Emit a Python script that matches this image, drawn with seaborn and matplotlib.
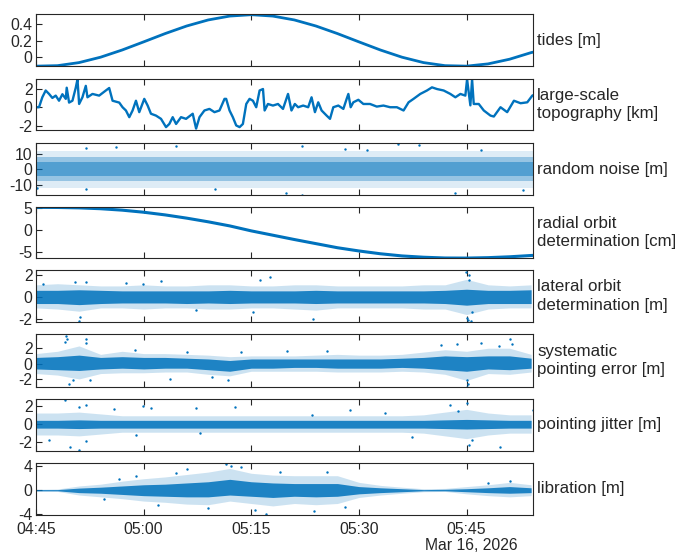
import numpy as np
import pandas as pd
import matplotlib
matplotlib.use("Agg")
import matplotlib.pyplot as plt
import matplotlib.dates as mdates
from matplotlib.ticker import FuncFormatter
import seaborn as sns

# ---------------- data ----------------
START = pd.Timestamp("2026-03-16 04:45:00")
END_MIN = 69.3                      # minutes after 04:45 at the right edge
DATE_LABEL = "Mar 16, 2026"
TICK_MIN = [0, 15, 30, 45, 60]      # 04:45, 05:00, 05:15, 05:30, 05:45

panel_labels = ["tides [m]", "large-scale\ntopography [km]", "random noise [m]",
                "radial orbit\ndetermination [cm]", "lateral orbit\ndetermination [m]",
                "systematic\npointing error [m]", "pointing jitter [m]", "libration [m]"]

# common sampling grid (minutes after 04:45)
grid_min = [0, 3, 6, 9, 12, 15, 18, 21, 24, 27, 30, 33, 36, 39, 42, 45, 48, 51, 54, 57, 60, 63, 66, 69]

# tides [m]
tide_min = grid_min + [69.3]
tide_val = [-0.118, -0.112, -0.074, -0.007, 0.082, 0.183, 0.286, 0.380, 0.455, 0.503, 0.520, 0.503,
            0.455, 0.380, 0.286, 0.183, 0.082, -0.007, -0.074, -0.112, -0.118, -0.090, -0.032, 0.050, 0.056]

# large-scale topography [km]
topo_min = [0.0, 0.42, 0.88, 1.35, 1.82, 2.28, 2.75, 3.21, 3.68, 4.15, 4.28, 4.61, 5.08, 5.54, 5.78, 6.01,
            6.47, 6.94, 7.17, 7.87, 8.80, 9.73, 10.2, 10.67, 11.6, 12.06, 12.53, 13.0, 13.46, 13.93, 14.39,
            15.09, 15.56, 16.02, 16.72, 17.42, 18.12, 18.58, 19.05, 19.52, 20.21, 20.91, 21.84, 22.31, 22.78,
            23.47, 24.17, 24.87, 25.57, 26.27, 26.5, 26.97, 27.43, 27.9, 28.37, 28.83, 29.3, 29.76, 30.23,
            30.69, 31.16, 31.63, 31.86, 32.32, 33.02, 33.72, 34.42, 35.12, 35.6, 36.07, 36.53, 37.23, 37.93,
            38.4, 38.87, 39.33, 39.8, 40.5, 40.97, 41.43, 42.13, 42.83, 43.29, 43.53, 43.85, 44.22, 44.92,
            45.62, 46.55, 47.49, 48.42, 49.35, 50.29, 51.22, 51.92, 52.61, 53.55, 54.48, 55.18, 55.87, 56.81,
            57.74, 58.44, 59.14, 59.83, 60.07, 60.53, 60.77, 61.0, 61.7, 62.4, 63.33, 63.8, 64.73, 65.66,
            66.6, 67.53, 68.46, 69.16, 69.3]
topo_val = [0.0, 0.0, 1.07, 1.8, 1.43, 1.0, 1.25, 0.7, 1.4, 0.9, 2.1, 0.5, 0.7, 2.1, 3.0, 0.35,
            1.07, 2.3, 1.07, 1.43, 1.25, 1.8, 2.07, 0.7, 0.5, 0.0, -0.35, -1.07, -0.35, 0.7, -0.53,
            0.9, 0.18, -0.7, -0.9, -1.25, -2.14, -1.8, -1.07, -1.8, -1.07, -1.25, -0.7, -2.3, -1.07,
            -0.35, -0.18, -0.53, -0.35, 0.9, 0.9, -0.35, -1.07, -1.96, -2.14, -1.8, 0.35, 0.9, 0.7,
            0.0, 1.8, 1.96, -0.35, 0.35, 0.18, 0.35, -0.18, 1.43, -0.35, 0.35, 0.0, 0.18, 0.0,
            1.07, -0.53, 0.53, -0.35, -0.9, -1.25, 0.0, 0.18, -0.18, 0.9, 1.43, 0.0, 0.53, 0.8,
            0.35, 0.35, 0.07, 0.18, 0.0, 0.0, -0.35, 0.53, 0.9, 1.43, 1.8, 2.14, 1.96, 1.8,
            1.43, 1.07, 1.43, 1.25, 3.0, 0.2, 3.0, 0.35, 0.35, -0.35, -0.9, -1.0, 0.0, -0.53,
            0.7, 0.43, 0.53, 1.25, 1.3]

# random noise [m]: half-widths of the dense core, the main cloud and the sparse fringe
noise_inner = 4.5
noise_mid = 8.0
noise_outer = 12.0
noise_out_min = [0.2, 6.9, 11.1, 19.5, 37.0, 34.8, 37.0, 6.9, 53.4, 50.5, 58.4, 67.9, 46.1, 25.0, 43.0, 62.0]
noise_out_val = [-12.0, 14.2, 14.5, 15.3, 15.0, -15.4, -16.8, -13.2, 16.2, 16.5, -15.4, -13.6, 12.7, -13.0, 13.5, 13.0]

# radial orbit determination [cm]
radial_min = grid_min + [69.3]
radial_val = [5.25, 5.22, 5.13, 4.93, 4.6, 4.12, 3.5, 2.75, 1.9, 0.95, -0.2, -1.2, -2.2, -3.15, -4.1, -4.85,
              -5.5, -6.0, -6.3, -6.48, -6.5, -6.4, -6.2, -5.9, -5.87]

# lateral orbit determination [m]
lat_core_lo = [-0.6, -0.6, -0.7, -0.6, -0.55, -0.55, -0.55, -0.6, -0.55, -0.6, -0.55, -0.55, -0.55, -0.6,
               -0.55, -0.55, -0.55, -0.55, -0.55, -0.6, -0.75, -0.6, -0.6, -0.6]
lat_core_hi = [0.6, 0.6, 0.65, 0.6, 0.55, 0.55, 0.55, 0.55, 0.55, 0.6, 0.55, 0.55, 0.55, 0.6, 0.55, 0.55,
               0.55, 0.55, 0.55, 0.6, 0.7, 0.6, 0.6, 0.65]
lat_out_lo = [-1.0, -1.1, -1.3, -1.0, -1.0, -1.1, -1.0, -1.0, -1.1, -1.1, -1.0, -1.0, -1.1, -1.2, -1.0, -1.0,
              -1.0, -1.0, -1.1, -1.1, -1.6, -1.1, -1.0, -1.0]
lat_out_hi = [1.1, 1.2, 1.1, 1.0, 1.0, 1.1, 1.0, 1.0, 1.1, 1.1, 1.0, 1.0, 1.1, 1.1, 1.0, 1.0, 1.0, 1.0, 1.1,
              1.1, 1.6, 1.1, 1.0, 1.1]
lat_pts_min = [6.0, 6.1, 1.0, 12.5, 17.4, 14.9, 6.9, 5.5, 32.6, 31.2, 38.6, 30.2, 22.3,
               59.9, 60.3, 60.6, 60.1, 60.4, 60.8, 60.2]
lat_pts_val = [-2.2, -1.8, 1.2, 1.3, 1.45, 1.2, 1.35, 1.35, 1.8, 1.5, -2.0, -1.4, -1.2,
               2.3, 2.0, -2.2, -1.9, 1.5, -1.4, -2.1]

# systematic pointing error [m]
sys_core_lo = [-0.7, -0.8, -0.9, -0.7, -0.6, -0.7, -0.6, -0.6, -0.8, -1.0, -0.6, -0.6, -0.5, -0.5, -0.6,
               -0.6, -0.6, -0.5, -0.6, -0.8, -1.0, -0.7, -0.8, -0.6]
sys_core_hi = [0.8, 0.9, 1.1, 0.8, 0.9, 0.8, 0.8, 0.7, 0.6, 0.4, 0.6, 0.6, 0.6, 0.6, 0.6, 0.6, 0.6, 0.7,
               0.8, 1.0, 0.9, 1.0, 1.0, 0.7]
sys_out_lo = [-1.3, -1.5, -2.0, -1.3, -1.2, -1.2, -1.1, -1.1, -1.4, -1.6, -1.0, -1.0, -1.0, -1.0, -1.1,
              -1.1, -1.1, -1.0, -1.1, -1.4, -2.2, -1.3, -1.4, -1.1]
sys_out_hi = [1.3, 1.6, 2.3, 1.2, 1.6, 1.3, 1.3, 1.2, 1.1, 0.9, 1.0, 1.0, 1.0, 1.1, 1.2, 1.1, 1.1, 1.2,
              1.5, 1.8, 1.6, 2.0, 2.0, 1.2]
sys_pts_min = [4.2, 4.3, 4.0, 4.6, 6.9, 7.0, 5.2, 7.5, 13.8, 21.0, 18.7, 24.5, 26.8, 28.5, 35.0, 40.5,
               56.5, 58.7, 60.1, 60.2, 60.0, 62.0, 64.5, 66.1, 66.3]
sys_pts_val = [3.6, 3.2, 2.8, -2.7, 3.2, 2.7, -2.2, -2.1, 1.8, 1.5, -2.0, -1.8, -2.2, 1.5, 1.7, 1.6,
               2.4, 2.5, -3.0, -2.6, -2.2, 2.7, 2.3, 3.2, 2.6]

# pointing jitter [m]
jit_core_lo = [-0.45, -0.45, -0.5, -0.45, -0.45, -0.45, -0.45, -0.45, -0.45, -0.45, -0.45, -0.45, -0.45,
               -0.45, -0.45, -0.45, -0.45, -0.45, -0.45, -0.5, -0.55, -0.5, -0.45, -0.45]
jit_core_hi = [0.4, 0.4, 0.45, 0.4, 0.4, 0.4, 0.4, 0.4, 0.4, 0.4, 0.4, 0.4, 0.4, 0.4, 0.4, 0.4, 0.4, 0.4,
               0.4, 0.45, 0.5, 0.45, 0.4, 0.4]
jit_out_lo = [-1.2, -1.2, -1.3, -1.1, -0.9, -0.9, -0.9, -0.9, -0.9, -0.9, -0.9, -0.9, -0.9, -0.9, -0.9,
              -0.9, -0.9, -0.9, -1.0, -1.3, -1.6, -1.2, -1.0, -1.0]
jit_out_hi = [1.2, 1.2, 1.3, 1.1, 0.9, 0.9, 0.9, 0.9, 0.9, 0.9, 0.9, 0.9, 0.9, 0.9, 0.9, 0.9, 0.9, 0.9,
              1.0, 1.3, 1.6, 1.2, 1.0, 1.0]
jit_pts_min = [4.1, 6.0, 7.0, 1.8, 4.8, 6.0, 6.9, 14.9, 16.0, 22.3, 27.7, 10.9, 13.9, 22.8, 38.4,
               57.7, 60.1, 60.3, 60.7, 58.8, 64.7, 52.4, 48.6, 69.2, 43.8]
jit_pts_val = [2.6, 1.9, 2.1, -1.75, -2.5, -2.8, -1.9, 2.0, 1.8, 1.7, 1.9, 1.6, -1.2, -1.0, 1.0,
               2.1, 2.25, -2.3, -1.75, 1.45, -2.5, -1.4, 1.25, 1.5, 1.5]

# libration [m]
lib_core_lo = [-0.1, -0.1, -0.4, -0.5, -0.7, -0.9, -1.0, -1.1, -1.1, -0.8, -1.0, -1.2, -1.0, -1.1, -1.0,
               -0.6, -0.4, -0.25, -0.1, -0.1, -0.25, -0.4, -0.5, -0.4]
lib_core_hi = [0.1, 0.1, 0.35, 0.5, 0.7, 0.9, 1.0, 1.2, 1.4, 1.8, 1.4, 1.2, 1.1, 1.1, 1.1, 0.6, 0.4, 0.25,
               0.1, 0.15, 0.25, 0.4, 0.6, 0.4]
lib_out_lo = [-0.15, -0.2, -0.8, -1.1, -1.4, -1.8, -2.0, -2.3, -2.4, -1.8, -2.2, -2.6, -2.2, -2.4, -2.2,
              -1.2, -0.8, -0.5, -0.25, -0.2, -0.6, -0.9, -1.1, -0.9]
lib_out_hi = [0.15, 0.2, 0.7, 1.0, 1.5, 1.9, 2.2, 2.6, 3.0, 3.6, 2.8, 2.5, 2.4, 2.4, 2.4, 1.3, 0.8, 0.5,
              0.25, 0.3, 0.6, 0.9, 1.3, 0.9]
lib_pts_min = [26.5, 27.2, 28.5, 21.0, 19.5, 32.1, 30.5, 38.8, 34.0, 24.0, 17.0, 14.0, 11.5, 9.5, 40.5,
               43.0, 66.1, 63.0]
lib_pts_val = [4.4, 4.0, 3.8, 3.5, 2.9, -4.0, -3.2, -3.5, 3.0, -3.0, -2.5, 2.4, 1.8, -1.5, 3.0,
               -2.8, 1.6, 1.2]

# ---------------- styling / layout ----------------
BLUE = "#0072BD"
INK = "#262626"
FIG_W, FIG_H = 688, 554
AX_LEFT_PX, AX_RIGHT_PX = 36.0, 533.3
PANEL_TOP_PX = [14.3, 78.7, 143.3, 206.7, 270.5, 334.0, 399.0, 462.7]
PANEL_BOT_PX = [66.3, 130.0, 195.3, 258.3, 321.7, 387.0, 451.0, 515.0]
YLIMS = [(-0.12, 0.525), (-2.45, 3.07), (-17.1, 17.1), (-6.55, 5.4),
         (-2.25, 2.4), (-3.05, 3.85), (-2.95, 2.73), (-4.1, 4.55)]
YTICKS = [[0, 0.2, 0.4], [-2, 0, 2], [-10, 0, 10], [-5, 0, 5],
          [-2, 0, 2], [-2, 0, 2], [-2, 0, 2], [-4, 0, 4]]

sns.set_theme(style="white")
plt.rcParams["font.family"] = ["Liberation Sans", "DejaVu Sans"]
plt.rcParams["axes.unicode_minus"] = False


def to_time(mins):
    return START + pd.to_timedelta(np.asarray(mins, dtype=float), unit="min")


fig = plt.figure(figsize=(FIG_W / 100, FIG_H / 100), dpi=100)
axes = []
for top, bot in zip(PANEL_TOP_PX, PANEL_BOT_PX):
    axes.append(fig.add_axes([AX_LEFT_PX / FIG_W, 1 - bot / FIG_H,
                              (AX_RIGHT_PX - AX_LEFT_PX) / FIG_W, (bot - top) / FIG_H]))

grid_t = to_time(grid_min)


def draw_band(ax, core_lo, core_hi, out_lo, out_hi, pts_min, pts_val):
    ax.fill_between(grid_t, out_lo, out_hi, color=BLUE, alpha=0.2, lw=0)
    ax.fill_between(grid_t, core_lo, core_hi, color=BLUE, alpha=0.85, lw=0)
    sns.scatterplot(x=to_time(pts_min), y=pts_val, ax=ax, color=BLUE, s=3, linewidth=0)


# 1 tides
sns.lineplot(x=to_time(tide_min), y=tide_val, ax=axes[0], color=BLUE, lw=2.0,
             estimator=None, sort=False)
# 2 topography
sns.lineplot(x=to_time(topo_min), y=topo_val, ax=axes[1], color=BLUE, lw=1.7,
             estimator=None, sort=False)
# 3 random noise
ax = axes[2]
end_t = to_time([0, END_MIN])
ax.fill_between(end_t, -noise_outer, noise_outer, color=BLUE, alpha=0.13, lw=0)
ax.fill_between(end_t, -noise_mid, noise_mid, color=BLUE, alpha=0.32, lw=0)
ax.fill_between(end_t, -noise_inner, noise_inner, color=BLUE, alpha=0.45, lw=0)
sns.scatterplot(x=to_time(noise_out_min), y=noise_out_val, ax=ax, color=BLUE, s=3, linewidth=0)
# 4 radial orbit
sns.lineplot(x=to_time(radial_min), y=radial_val, ax=axes[3], color=BLUE, lw=2.2,
             estimator=None, sort=False)
# 5-8 noisy bands
draw_band(axes[4], lat_core_lo, lat_core_hi, lat_out_lo, lat_out_hi, lat_pts_min, lat_pts_val)
draw_band(axes[5], sys_core_lo, sys_core_hi, sys_out_lo, sys_out_hi, sys_pts_min, sys_pts_val)
draw_band(axes[6], jit_core_lo, jit_core_hi, jit_out_lo, jit_out_hi, jit_pts_min, jit_pts_val)
draw_band(axes[7], lib_core_lo, lib_core_hi, lib_out_lo, lib_out_hi, lib_pts_min, lib_pts_val)

fmt = FuncFormatter(lambda v, p: "%g" % v)
for i, ax in enumerate(axes):
    ax.set_xlim(START, START + pd.Timedelta(minutes=END_MIN))
    ax.set_ylim(*YLIMS[i])
    ax.set_yticks(YTICKS[i])
    ax.yaxis.set_major_formatter(fmt)
    ax.set_xticks(to_time(TICK_MIN))
    ax.xaxis.set_major_formatter(mdates.DateFormatter("%H:%M"))
    ax.set_xlabel("")
    ax.set_ylabel("")
    ax.tick_params(direction="in", length=4, width=0.8, color=INK, labelcolor=INK,
                   labelsize=11.3, top=True, bottom=True, left=True, right=False, pad=2.5)
    ax.tick_params(axis="x", pad=5)
    if i < len(axes) - 1:
        ax.tick_params(labelbottom=False)
    for s in ax.spines.values():
        s.set_color(INK)
        s.set_linewidth(0.8)
        s.set_visible(True)
    ax.text(1.008, 0.5, panel_labels[i], transform=ax.transAxes, ha="left", va="center",
            fontsize=12.2, color=INK, linespacing=1.3)

fig.text(471 / FIG_W, 1 - 546 / FIG_H, DATE_LABEL, ha="center", va="center",
         fontsize=11.3, color=INK)

fig.savefig("out.png", dpi=100)
